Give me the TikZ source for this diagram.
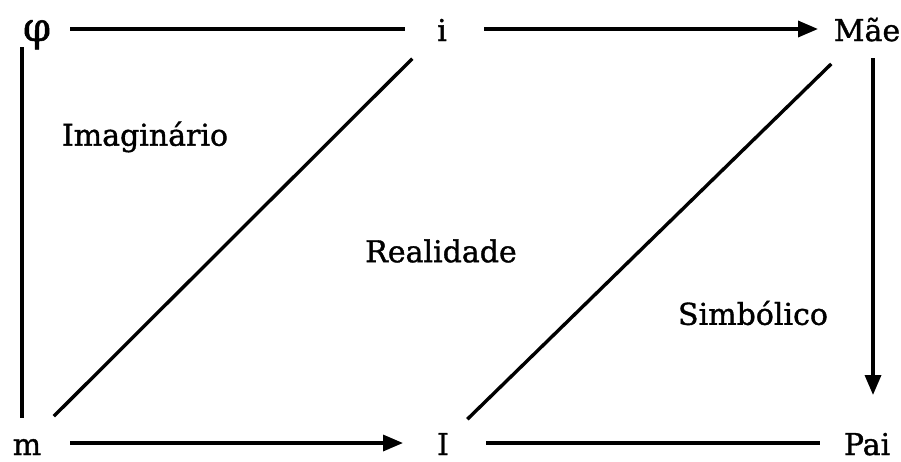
\documentclass[tikz,border=0pt]{standalone}
\usepackage{fontspec}
\setmainfont{DejaVu Serif}[FakeBold=1.2]
\usetikzlibrary{arrows.meta}
\tikzset{
  lbl/.style={inner sep=0pt, font=\fontsize{30}{34}\selectfont},
  corner/.style={inner sep=0pt, text height=24pt, text depth=0pt, font=\fontsize{30}{34}\selectfont},
  ln/.style={line width=3.4pt},
  arr/.style={line width=3.4pt, -{Triangle[length=20pt,width=16pt]}}
}
\begin{document}
\begin{tikzpicture}[x=1pt,y=-1pt]
\useasboundingbox (0,0) rectangle (901,461);
\node[corner] (phi) at (37,29) {\fontsize{40}{44}\selectfont φ};
\node[corner] (i) at (442,29) {i};
\node[corner] (mae) at (867,29) {Mãe};
\node[corner] (m) at (27,443) {m};
\node[corner] (bigI) at (443,443) {I};
\node[corner] (pai) at (867,443) {Pai};
\node[lbl] (imag) at (145,137) {Imaginário};
\node[lbl] (real) at (441,251) {Realidade};
\node[lbl] (simb) at (753,313) {Simbólico};
% top row
\draw[ln, shorten <=33pt, shorten >=37pt] (phi.center) -- (i.center);
\draw[arr, shorten <=42pt, shorten >=49pt] (i.center) -- (mae.center);
% bottom row
\draw[arr, shorten <=43pt, shorten >=40pt] (m.center) -- (bigI.center);
\draw[ln, shorten <=43pt, shorten >=47pt] (bigI.center) -- (pai.center);
% verticals
\draw[ln, shorten <=18pt, shorten >=25pt] ([xshift=-15pt]phi.center) -- ([xshift=-5pt]m.center);
\draw[arr, shorten <=29pt, shorten >=48pt] ([xshift=6pt]mae.center) -- ([xshift=6pt]pai.center);
% diagonals
\draw[ln, shorten <=38pt, shorten >=42pt] (m.center) -- (i.center);
\draw[ln, shorten <=34pt, shorten >=50pt] (bigI.center) -- (mae.center);
\end{tikzpicture}
\end{document}
